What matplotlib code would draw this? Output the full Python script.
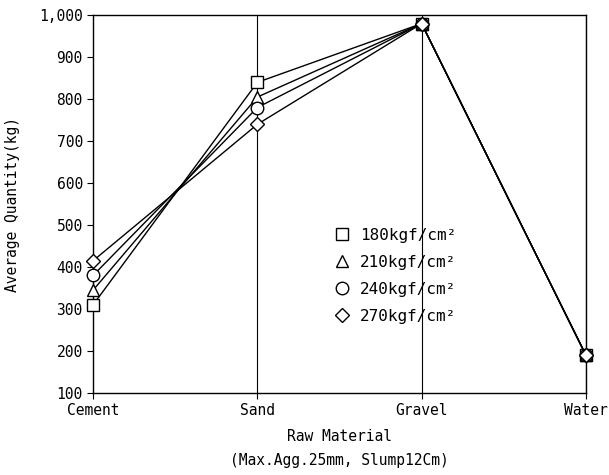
import matplotlib.pyplot as plt
import numpy as np

plt.rcParams.update({"font.family": "DejaVu Sans Mono", "font.size": 10})

materials = ["Cement", "Sand", "Gravel", "Water"]
strengths = ["180kgf/cm²", "210kgf/cm²", "240kgf/cm²", "270kgf/cm²"]
q_180 = [310, 840, 980, 190]
q_210 = [345, 805, 980, 190]
q_240 = [380, 780, 980, 190]
q_270 = [415, 740, 980, 190]
yticks = [100, 200, 300, 400, 500, 600, 700, 800, 900, 1000]
ytick_labels = ["100", "200", "300", "400", "500", "600", "700", "800", "900", "1,000"]

markers = ["s", "^", "o", "D"]
msizes = [9, 8, 9, 7]

fig = plt.figure(figsize=(6.09, 4.75), dpi=100)
ax = fig.add_axes([0.153, 0.173, 0.809, 0.795])
x = np.arange(len(materials))
for vals, lab, m, ms in zip([q_180, q_210, q_240, q_270], strengths, markers, msizes):
    ax.plot(x, vals, color="black", lw=1.0, marker=m, ms=ms,
            mfc="white", mec="black", mew=1.0, label=lab, clip_on=False, zorder=3)

for xi in x[1:]:
    ax.axvline(xi, color="black", lw=0.8, zorder=0)

ax.set_xlim(0, 3)
ax.set_ylim(100, 1000)
ax.set_xticks(x)
ax.set_xticklabels(materials, fontsize=10.5)
ax.set_yticks(yticks)
ax.set_yticklabels(ytick_labels, fontsize=10.5)
ax.tick_params(direction="out", length=4, width=0.8, color="black")
for s in ax.spines.values():
    s.set_linewidth(1.0)
ax.set_xlabel("Raw Material\n(Max.Agg.25mm, Slump12Cm)", fontsize=10.5,
              linespacing=1.75, labelpad=8)
ax.set_ylabel("Average Quantity(kg)", fontsize=10.5, labelpad=14)

leg = ax.legend(loc="upper left", bbox_to_anchor=(0.46, 0.475), frameon=False,
                handlelength=1.0, handletextpad=0.6, labelspacing=0.75,
                fontsize=11.5)
for h in leg.legend_handles:
    h.set_linestyle("none")

fig.savefig("out.png", dpi=100)
